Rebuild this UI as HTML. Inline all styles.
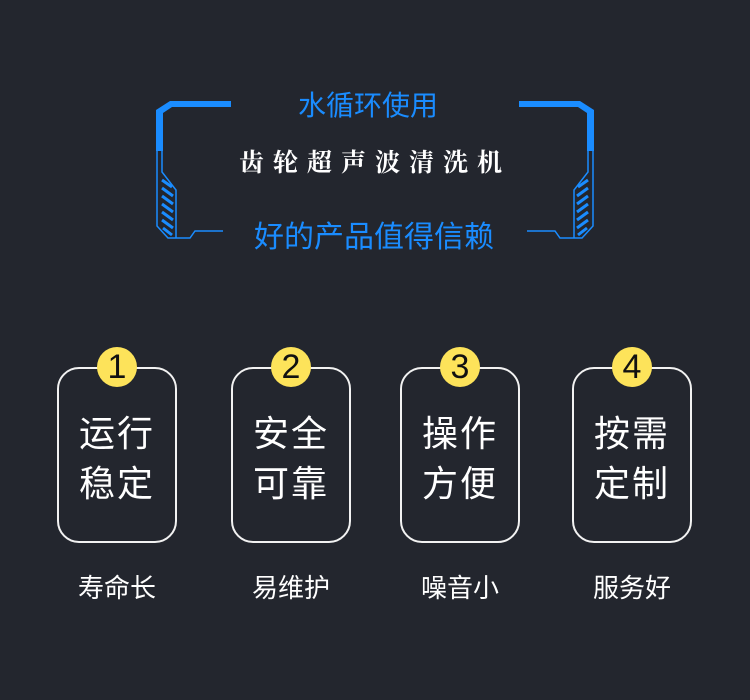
<!DOCTYPE html><html><head><meta charset="utf-8"><style>
body{margin:0;width:750px;height:700px;background:#23262e;position:relative;overflow:hidden;font-family:"Liberation Sans","Noto Sans CJK SC",sans-serif}
.t{position:absolute;left:0;width:750px;text-align:center;white-space:nowrap}
.card{position:absolute;top:367px;width:116px;height:172px;border:2px solid #f2f2f2;border-radius:22px;box-sizing:content-box}
.card .c{position:absolute;left:38px;top:-22px;width:40px;height:40px;border-radius:50%;background:#fde35a;color:#111;font-size:34px;line-height:40px;text-align:center}
.card .x{position:absolute;left:0;width:116px;top:40px;text-align:center;color:#fff;font-size:36px;line-height:50px;letter-spacing:2px}
.lb{position:absolute;top:568px;width:160px;text-align:center;color:#fff;font-size:26px}
</style></head><body>
<svg width="750" height="700" style="position:absolute;left:0;top:0">
<g id="L" fill="#1a8cff" stroke="none">
<polygon points="170,101 231,101 231,107 172,107 163,113 163,151 156,151 156,110"/>
<g fill="none" stroke="#1a8cff" stroke-width="1.5">
<polyline points="157,151 157,226 168,238 190,238 195,231 223,231"/>
<polyline points="162,151 162,172 176,190 176,238"/>
</g>
<g stroke="#1a8cff" stroke-width="3">
<line x1="162" y1="180" x2="172" y2="187"/>
<line x1="162" y1="188" x2="173" y2="196"/>
<line x1="162" y1="196" x2="173" y2="204"/>
<line x1="162" y1="204" x2="173" y2="212"/>
<line x1="162" y1="212" x2="173" y2="220"/>
<line x1="162" y1="220" x2="173" y2="228"/>
<line x1="163" y1="228" x2="172" y2="235"/>
</g>
</g>
<use href="#L" transform="translate(750,0) scale(-1,1)"/>
</svg>
<div class="t" style="top:84px;color:#1a8cff;font-size:28px;left:-7px">水循环使用</div>
<div class="t" style="top:143px;color:#fff;font-size:25px;font-weight:bold;letter-spacing:9px;font-family:'Liberation Serif','Noto Serif CJK SC',serif;left:0px">齿轮超声波清洗机</div>
<div class="t" style="top:212px;color:#1a8cff;font-size:30px;left:-1px">好的产品值得信赖</div>
<div class="card" style="left:57px"><div class="c">1</div><div class="x">运行<br>稳定</div></div>
<div class="card" style="left:231px"><div class="c">2</div><div class="x">安全<br>可靠</div></div>
<div class="card" style="left:400px"><div class="c">3</div><div class="x">操作<br>方便</div></div>
<div class="card" style="left:572px"><div class="c">4</div><div class="x">按需<br>定制</div></div>
<div class="lb" style="left:37px">寿命长</div>
<div class="lb" style="left:211px">易维护</div>
<div class="lb" style="left:380px">噪音小</div>
<div class="lb" style="left:552px">服务好</div>
</body></html>
